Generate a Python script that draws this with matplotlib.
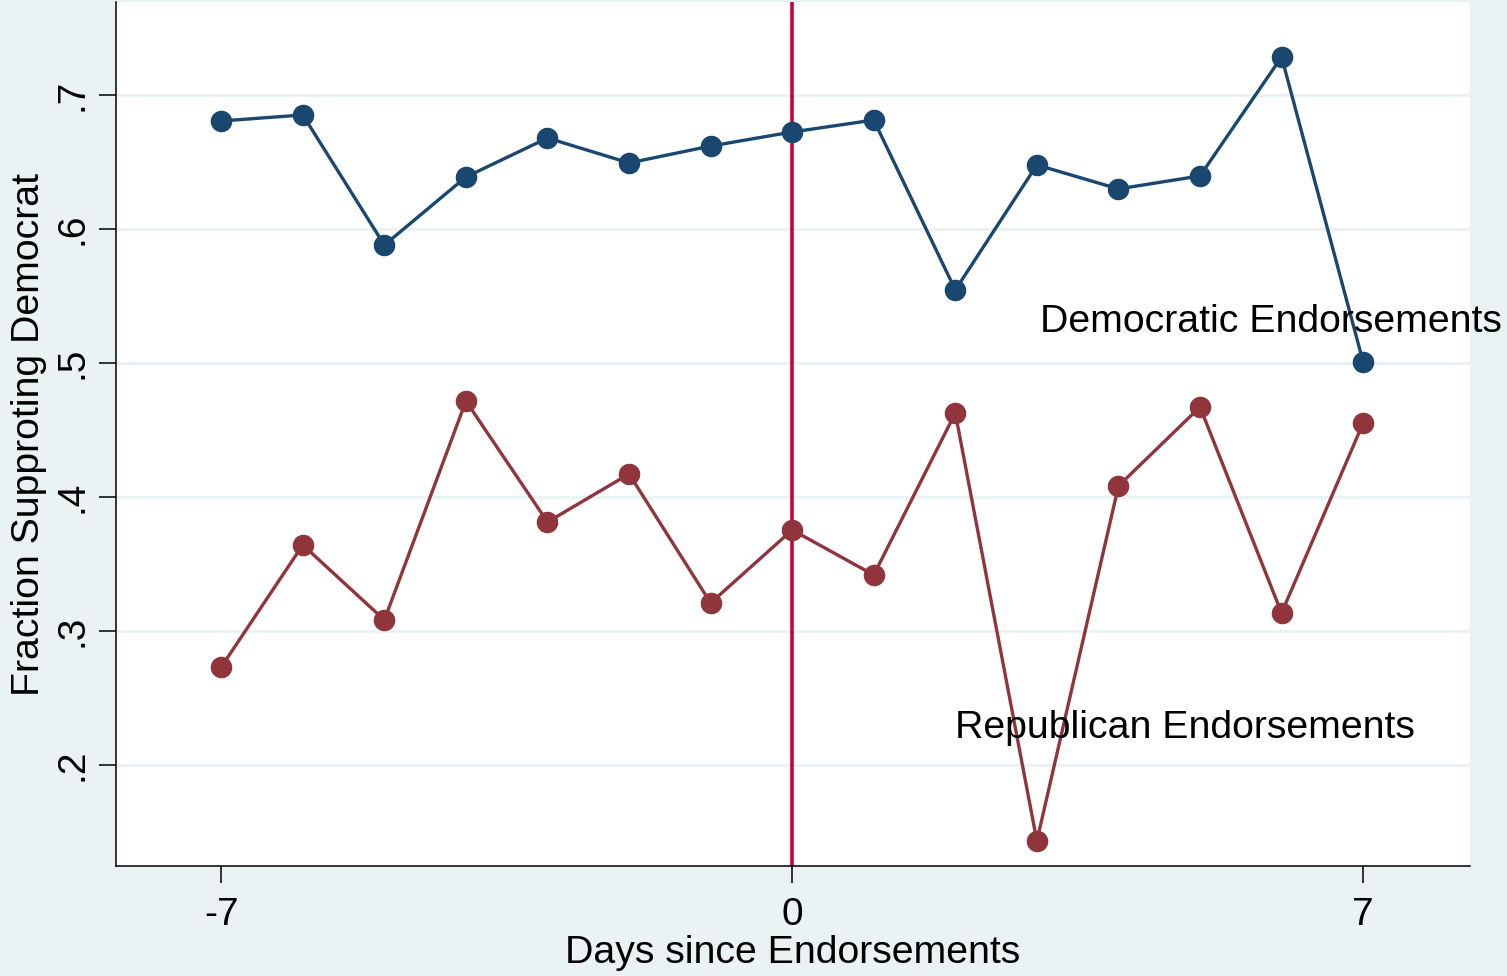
import matplotlib
matplotlib.use("Agg")
import matplotlib.pyplot as plt

days = [-7, -6, -5, -4, -3, -2, -1, 0, 1, 2, 3, 4, 5, 6, 7]
dem = [0.6806, 0.6851, 0.5880, 0.6388, 0.6679, 0.6493, 0.6619, 0.6724,
       0.6813, 0.5545, 0.6478, 0.6299, 0.6396, 0.7284, 0.5007]
rep = [0.2731, 0.3642, 0.3082, 0.4716, 0.3813, 0.4172, 0.3209, 0.3754,
       0.3418, 0.4627, 0.1433, 0.4082, 0.4672, 0.3134, 0.4552]
xticks = [-7, 0, 7]
yticks = [0.2, 0.3, 0.4, 0.5, 0.6, 0.7]
ytick_labels = [".2", ".3", ".4", ".5", ".6", ".7"]

plt.rcParams['font.family'] = ['Liberation Sans', 'DejaVu Sans']
bg = '#EAF2F3'
fig = plt.figure(figsize=(15.07, 9.76), dpi=100, facecolor=bg)
ax = fig.add_axes([116/1507, 110/976, (1470-116)/1507, (974-110)/976])
ax.set_facecolor('white')

for y in yticks:
    ax.axhline(y, color=bg, lw=2.2, zorder=0)

ax.axvline(0, color='#C4063C', lw=2.6, zorder=1)
ax.plot(days, dem, color='#1A476F', lw=2.4, marker='o', ms=14.5, zorder=3)
ax.plot(days, rep, color='#90353B', lw=2.4, marker='o', ms=14.5, zorder=3)

ax.text(3.04, 0.5306, "Democratic Endorsements", fontsize=28.3, ha='left', va='center')
ax.text(2.0, 0.2276, "Republican Endorsements", fontsize=28.3, ha='left', va='center')

ax.set_xlim(-8.29, 8.31)
ax.set_ylim(0.1246, 0.7694)
ax.set_xticks(xticks)
ax.set_xticklabels([str(t) for t in xticks], fontsize=28)
ax.set_yticks(yticks)
ax.set_yticklabels(ytick_labels, fontsize=28, rotation=90, va='center')
ax.tick_params(axis='x', length=12, width=1.1, color='black', pad=10)
ax.tick_params(axis='y', length=12, width=1.1, color='black', pad=6)
ax.set_xlabel("Days since Endorsements", fontsize=28.3, labelpad=2)
ax.set_ylabel("Fraction Supproting Democrat", fontsize=28.3, labelpad=6)

for s in ['top', 'right']:
    ax.spines[s].set_visible(False)
for s in ['left', 'bottom']:
    ax.spines[s].set_linewidth(1.1)

fig.savefig("out.png", dpi=100, facecolor=bg)
